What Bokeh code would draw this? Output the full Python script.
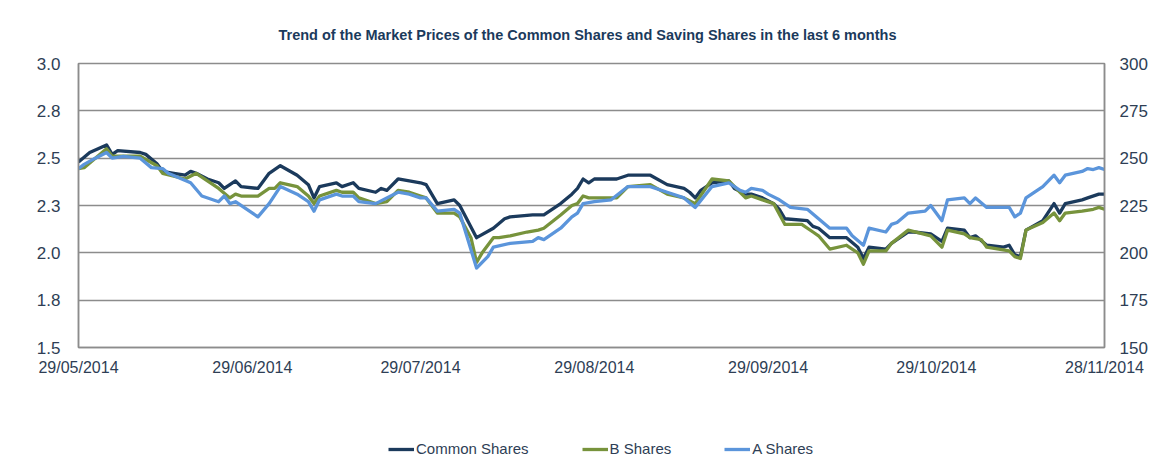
import pandas as pd
from bokeh.plotting import figure
from bokeh.layouts import column
from bokeh.models import (Range1d, LinearAxis, FixedTicker, DatetimeTickFormatter,
                          Legend, LegendItem, Title, ColumnDataSource)
from bokeh.embed import file_html
from bokeh.resources import INLINE

title_text = "Trend of the Market Prices of the Common  Shares and  Saving Shares in the last 6 months"

common_dates = ["2014-05-29", "2014-05-31", "2014-06-03", "2014-06-04", "2014-06-05", "2014-06-09",
                "2014-06-10", "2014-06-12", "2014-06-13", "2014-06-15", "2014-06-17", "2014-06-18",
                "2014-06-19", "2014-06-21", "2014-06-23", "2014-06-24", "2014-06-26", "2014-06-27",
                "2014-06-30", "2014-07-02", "2014-07-04", "2014-07-07", "2014-07-09", "2014-07-10",
                "2014-07-11", "2014-07-14", "2014-07-15", "2014-07-17", "2014-07-18", "2014-07-21",
                "2014-07-22", "2014-07-23", "2014-07-25", "2014-07-27", "2014-07-29", "2014-07-30",
                "2014-08-01", "2014-08-04", "2014-08-05", "2014-08-08", "2014-08-11", "2014-08-13",
                "2014-08-14", "2014-08-18", "2014-08-20", "2014-08-23", "2014-08-25", "2014-08-26",
                "2014-08-27", "2014-08-28", "2014-08-29", "2014-09-02", "2014-09-04", "2014-09-08",
                "2014-09-11", "2014-09-14", "2014-09-15", "2014-09-16", "2014-09-17", "2014-09-19",
                "2014-09-22", "2014-09-23", "2014-09-25", "2014-09-26", "2014-09-28", "2014-09-30",
                "2014-10-01", "2014-10-02", "2014-10-06", "2014-10-07", "2014-10-08", "2014-10-10",
                "2014-10-13", "2014-10-15", "2014-10-16", "2014-10-17", "2014-10-20", "2014-10-21",
                "2014-10-24", "2014-10-25", "2014-10-28", "2014-10-30", "2014-10-31", "2014-11-03",
                "2014-11-04", "2014-11-05", "2014-11-07", "2014-11-10", "2014-11-11", "2014-11-12",
                "2014-11-13", "2014-11-14", "2014-11-17", "2014-11-19", "2014-11-20", "2014-11-21",
                "2014-11-24", "2014-11-25", "2014-11-27", "2014-11-28"]
common_values = [2.48, 2.53, 2.57, 2.52, 2.54, 2.53,
                 2.52, 2.47, 2.43, 2.42, 2.41, 2.43,
                 2.42, 2.39, 2.37, 2.34, 2.38, 2.35,
                 2.34, 2.42, 2.46, 2.41, 2.36, 2.29,
                 2.35, 2.37, 2.35, 2.37, 2.34, 2.32,
                 2.34, 2.33, 2.39, 2.38, 2.37, 2.36,
                 2.26, 2.28, 2.25, 2.08, 2.13, 2.18,
                 2.19, 2.20, 2.20, 2.26, 2.31, 2.34,
                 2.39, 2.37, 2.39, 2.39, 2.41, 2.41,
                 2.36, 2.34, 2.32, 2.29, 2.33, 2.37,
                 2.38, 2.34, 2.31, 2.31, 2.29, 2.26,
                 2.23, 2.18, 2.17, 2.14, 2.13, 2.08,
                 2.08, 2.03, 1.97, 2.03, 2.02, 2.05,
                 2.11, 2.11, 2.10, 2.06, 2.13, 2.12,
                 2.08, 2.09, 2.04, 2.03, 2.04, 1.99,
                 1.98, 2.12, 2.17, 2.26, 2.21, 2.26,
                 2.28, 2.29, 2.31, 2.31]

b_dates = ["2014-05-29", "2014-05-30", "2014-06-01", "2014-06-03", "2014-06-04", "2014-06-06",
           "2014-06-09", "2014-06-12", "2014-06-13", "2014-06-17", "2014-06-19", "2014-06-23",
           "2014-06-25", "2014-06-26", "2014-06-27", "2014-06-30", "2014-07-02", "2014-07-03",
           "2014-07-04", "2014-07-07", "2014-07-09", "2014-07-10", "2014-07-11", "2014-07-14",
           "2014-07-15", "2014-07-17", "2014-07-18", "2014-07-21", "2014-07-23", "2014-07-25",
           "2014-07-27", "2014-07-29", "2014-07-30", "2014-08-01", "2014-08-04", "2014-08-05",
           "2014-08-07", "2014-08-08", "2014-08-09", "2014-08-11", "2014-08-12", "2014-08-14",
           "2014-08-17", "2014-08-19", "2014-08-20", "2014-08-23", "2014-08-25", "2014-08-26",
           "2014-08-27", "2014-08-28", "2014-08-29", "2014-09-02", "2014-09-04", "2014-09-08",
           "2014-09-11", "2014-09-14", "2014-09-16", "2014-09-19", "2014-09-22", "2014-09-24",
           "2014-09-25", "2014-09-26", "2014-09-28", "2014-09-30", "2014-10-02", "2014-10-05",
           "2014-10-07", "2014-10-08", "2014-10-10", "2014-10-13", "2014-10-15", "2014-10-16",
           "2014-10-17", "2014-10-20", "2014-10-21", "2014-10-24", "2014-10-28", "2014-10-30",
           "2014-10-31", "2014-11-03", "2014-11-04", "2014-11-06", "2014-11-07", "2014-11-11",
           "2014-11-12", "2014-11-13", "2014-11-14", "2014-11-17", "2014-11-19", "2014-11-20",
           "2014-11-21", "2014-11-24", "2014-11-26", "2014-11-27", "2014-11-28"]
b_values = [2.445, 2.45, 2.50, 2.55, 2.51, 2.51,
            2.51, 2.46, 2.42, 2.39, 2.42, 2.34,
            2.29, 2.31, 2.30, 2.30, 2.34, 2.34,
            2.37, 2.35, 2.30, 2.26, 2.30, 2.33,
            2.32, 2.32, 2.29, 2.26, 2.27, 2.33,
            2.32, 2.30, 2.29, 2.21, 2.21, 2.19,
            2.08, 1.95, 2.00, 2.08, 2.08, 2.09,
            2.11, 2.12, 2.13, 2.20, 2.25, 2.26,
            2.30, 2.29, 2.29, 2.29, 2.35, 2.36,
            2.31, 2.29, 2.26, 2.39, 2.38, 2.32,
            2.29, 2.30, 2.28, 2.26, 2.15, 2.15,
            2.11, 2.09, 2.02, 2.04, 2.00, 1.94,
            2.01, 2.01, 2.05, 2.12, 2.09, 2.03,
            2.12, 2.10, 2.08, 2.07, 2.03, 2.01,
            1.98, 1.97, 2.12, 2.16, 2.21, 2.17,
            2.21, 2.22, 2.23, 2.24, 2.23]

a_dates = ["2014-05-29", "2014-05-30", "2014-06-01", "2014-06-03", "2014-06-04", "2014-06-06",
           "2014-06-09", "2014-06-11", "2014-06-13", "2014-06-14", "2014-06-18", "2014-06-20",
           "2014-06-23", "2014-06-24", "2014-06-25", "2014-06-26", "2014-06-30", "2014-07-02",
           "2014-07-04", "2014-07-07", "2014-07-09", "2014-07-10", "2014-07-11", "2014-07-14",
           "2014-07-15", "2014-07-17", "2014-07-18", "2014-07-21", "2014-07-25", "2014-07-27",
           "2014-07-29", "2014-07-30", "2014-08-01", "2014-08-04", "2014-08-05", "2014-08-08",
           "2014-08-10", "2014-08-11", "2014-08-14", "2014-08-18", "2014-08-19", "2014-08-20",
           "2014-08-23", "2014-08-25", "2014-08-26", "2014-08-27", "2014-08-29", "2014-09-01",
           "2014-09-04", "2014-09-08", "2014-09-11", "2014-09-14", "2014-09-16", "2014-09-19",
           "2014-09-22", "2014-09-24", "2014-09-25", "2014-09-26", "2014-09-28", "2014-09-29",
           "2014-10-01", "2014-10-03", "2014-10-06", "2014-10-08", "2014-10-10", "2014-10-13",
           "2014-10-14", "2014-10-16", "2014-10-17", "2014-10-20", "2014-10-21", "2014-10-22",
           "2014-10-24", "2014-10-27", "2014-10-28", "2014-10-30", "2014-10-31", "2014-11-03",
           "2014-11-04", "2014-11-05", "2014-11-07", "2014-11-11", "2014-11-12", "2014-11-13",
           "2014-11-14", "2014-11-17", "2014-11-19", "2014-11-20", "2014-11-21", "2014-11-24",
           "2014-11-25", "2014-11-26", "2014-11-27", "2014-11-28"]
a_values = [244.5, 246.7, 250.0, 253.0, 250.0, 251.0,
            250.0, 245.0, 244.5, 242.0, 237.0, 230.0,
            227.0, 230.0, 226.0, 227.0, 219.0, 226.0,
            235.0, 231.0, 227.0, 222.0, 228.0, 231.0,
            230.0, 230.0, 227.0, 226.0, 232.0, 231.0,
            229.0, 229.0, 222.0, 223.0, 221.0, 192.0,
            198.0, 203.0, 205.0, 206.0, 208.0, 207.0,
            213.0, 219.0, 221.0, 226.0, 227.0, 228.0,
            235.0, 235.0, 232.0, 229.0, 224.0, 235.0,
            237.0, 233.0, 232.0, 234.0, 233.0, 231.0,
            228.0, 224.0, 223.0, 218.0, 213.0, 213.0,
            209.0, 204.0, 213.0, 211.0, 215.0, 216.0,
            221.0, 222.0, 225.0, 217.0, 228.0, 229.0,
            226.0, 229.0, 224.0, 224.0, 219.0, 221.0,
            229.0, 235.0, 241.0, 237.0, 241.0, 243.0,
            244.5, 244.0, 245.0, 244.0]

series_names = ["Common Shares", "B Shares", "A Shares"]
left_ticks = [1.5, 1.75, 2.0, 2.25, 2.5, 2.75, 3.0]
left_tick_labels = ["1.5", "1.8", "2.0", "2.3", "2.5", "2.8", "3.0"]
right_ticks = [150, 175, 200, 225, 250, 275, 300]
x_tick_dates = ["2014-05-29", "2014-06-29", "2014-07-29", "2014-08-29",
                "2014-09-29", "2014-10-29", "2014-11-28"]

NAVY = "#1B3A5C"
GREEN = "#77933C"
BLUE = "#5B95DB"
COLORS = [NAVY, GREEN, BLUE]
GRID = "#8C8C8C"
TXT = "#2E3E55"
FONT = "Liberation Sans"

start = pd.Timestamp("2014-05-29")
end = pd.Timestamp("2014-11-28")

p = figure(width=1150, height=423, x_axis_type="datetime",
           x_range=Range1d(start, end), y_range=Range1d(1.5, 3.0),
           output_backend="svg", toolbar_location=None,
           min_border_left=78, min_border_right=40, min_border_top=63, min_border_bottom=76)
p.extra_y_ranges = {"a": Range1d(150, 300)}

p.outline_line_color = GRID
p.outline_line_width = 1.5
p.background_fill_color = "white"
p.border_fill_color = "white"

# axes
p.yaxis.ticker = FixedTicker(ticks=left_ticks)
p.yaxis.major_label_overrides = {t: l for t, l in zip(left_ticks, left_tick_labels)}
p.xaxis.ticker = FixedTicker(ticks=[pd.Timestamp(d).value // 10**6 for d in x_tick_dates])
fmt = "%d/%m/%Y"
p.xaxis.formatter = DatetimeTickFormatter(days=fmt, months=fmt, years=fmt, hours=fmt,
                                          minutes=fmt, seconds=fmt, milliseconds=fmt,
                                          microseconds=fmt, minsec=fmt, hourmin=fmt)

ra = LinearAxis(y_range_name="a", ticker=FixedTicker(ticks=right_ticks))
p.add_layout(ra, "right")

for ax in [p.xaxis[0], p.yaxis[0], ra]:
    ax.axis_line_color = GRID
    ax.axis_line_width = 1.5
    ax.major_tick_line_color = None
    ax.minor_tick_line_color = None
    ax.major_label_text_font = FONT
    ax.major_label_text_font_size = "17px"
    ax.major_label_text_color = TXT
p.xaxis[0].major_label_text_font_size = "16px"
p.yaxis[0].major_label_standoff = 12
ra.major_label_standoff = 9
p.xaxis[0].major_label_standoff = 5

p.xgrid.grid_line_color = None
p.ygrid.grid_line_color = GRID
p.ygrid.grid_line_width = 1.5
p.ygrid.ticker = FixedTicker(ticks=left_ticks)

# lines
cs = ColumnDataSource(dict(x=pd.to_datetime(common_dates), y=common_values))
bs = ColumnDataSource(dict(x=pd.to_datetime(b_dates), y=b_values))
as_ = ColumnDataSource(dict(x=pd.to_datetime(a_dates), y=a_values))
p.line("x", "y", source=cs, line_color=NAVY, line_width=3.3, line_join="round")
p.line("x", "y", source=bs, line_color=GREEN, line_width=3.3, line_join="round")
p.line("x", "y", source=as_, y_range_name="a", line_color=BLUE, line_width=3.3, line_join="round")

title = Title(text=title_text, align="center", text_font=FONT, text_font_size="14.5px",
              text_font_style="bold", text_color=NAVY, standoff=42)
p.add_layout(title, "above")

# legend strip below the chart
lg = figure(width=1150, height=40, x_range=Range1d(0, 1), y_range=Range1d(0, 1),
            output_backend="svg", toolbar_location=None,
            x_axis_location=None, y_axis_location=None,
            min_border_left=0, min_border_right=0, min_border_top=0, min_border_bottom=0)
lg.outline_line_color = None
lg.xgrid.visible = False
lg.ygrid.visible = False
lg.border_fill_color = "white"
nan = float("nan")
items = []
for name, col in zip(series_names, COLORS):
    # legend-only renderer: no visible data (NaN values), just provides the legend swatch
    rr = lg.line(x=[0, 1], y=[nan, nan], line_color=col, line_width=3.3)
    items.append(LegendItem(label=name, renderers=[rr]))
legend = Legend(items=items, orientation="horizontal", location=(310, 6),
                label_text_font=FONT, label_text_font_size="15px", label_text_color=TXT,
                glyph_width=26, glyph_height=14, spacing=53, padding=0, margin=0,
                label_standoff=2, border_line_color=None, background_fill_alpha=0)
lg.add_layout(legend, "center")

layout = column(p, lg, spacing=0)
open("out.html", "w").write(file_html(layout, INLINE))
